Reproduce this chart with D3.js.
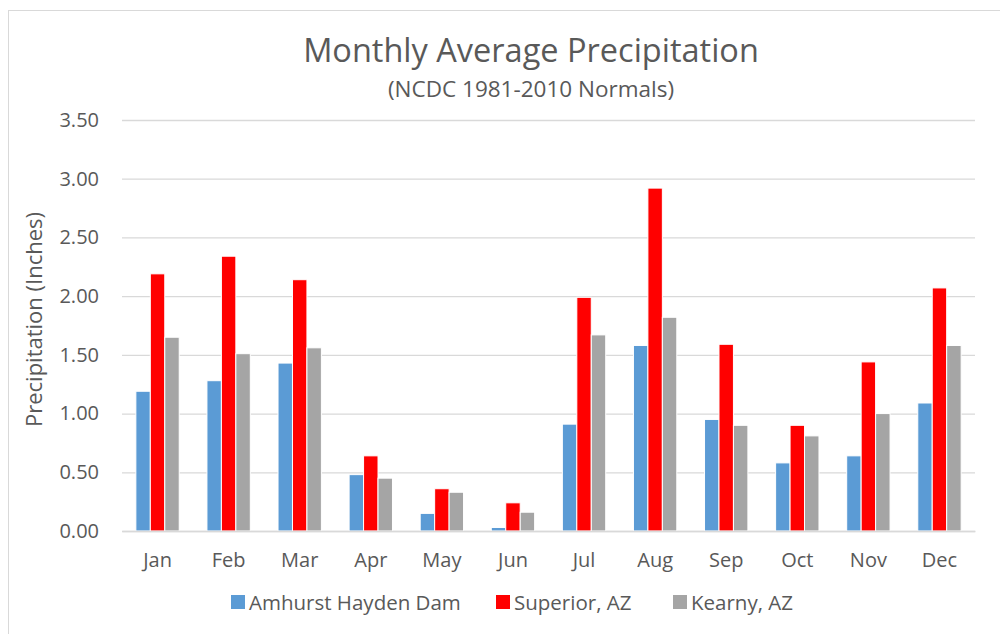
<!DOCTYPE html>
<html>
<head>
<meta charset="utf-8">
<script src="https://cdn.jsdelivr.net/npm/d3@7"></script>
<style>
  body { margin: 0; background: #fff; }
  svg { display: block; font-family: "Open Sans", sans-serif; }
</style>
</head>
<body>
<div class="chart"></div>
<script>
// data
var months = ["Jan", "Feb", "Mar", "Apr", "May", "Jun", "Jul", "Aug", "Sep", "Oct", "Nov", "Dec"];
var seriesNames = ["Amhurst Hayden Dam", "Superior, AZ", "Kearny, AZ"];
var seriesColors = ["#5B9BD5", "#FF0000", "#A5A5A5"];
var amhurst = [1.19, 1.28, 1.43, 0.48, 0.15, 0.03, 0.91, 1.58, 0.95, 0.58, 0.64, 1.09];
var superior = [2.19, 2.34, 2.14, 0.64, 0.36, 0.24, 1.99, 2.92, 1.59, 0.90, 1.44, 2.07];
var kearny = [1.65, 1.51, 1.56, 0.45, 0.33, 0.16, 1.67, 1.82, 0.90, 0.81, 1.00, 1.58];
var yTicks = [0, 0.5, 1, 1.5, 2, 2.5, 3, 3.5];

var svgWidth = 1000, svgHeight = 634;
var margin = {top: 120, right: 25, bottom: 103, left: 122};
var chart_width = svgWidth - margin.left - margin.right,
    chart_height = svgHeight - margin.top - margin.bottom;

var svg = d3.select(".chart")
  .append("svg")
    .attr("width", svgWidth)
    .attr("height", svgHeight);

// outer frame
svg.append("rect")
  .attr("x", 8.5).attr("y", 10.5)
  .attr("width", svgWidth).attr("height", svgHeight)
  .attr("fill", "none")
  .attr("stroke", "#d9d9d9");

var g = svg.append("g")
  .attr("transform", "translate(" + margin.left + "," + margin.top + ")");

var x0 = d3.scaleBand()
  .domain(months)
  .range([0, chart_width])
  .paddingInner(0.39)
  .paddingOuter(0.195);

var x1 = d3.scaleBand()
  .domain(d3.range(seriesNames.length))
  .range([0, x0.bandwidth()]);

var y = d3.scaleLinear()
  .domain([0, 3.5])
  .range([chart_height, 0]);

// gridlines + labels
var yAxis = g.append("g")
  .call(d3.axisLeft(y).tickValues(yTicks).tickSize(-chart_width).tickPadding(23)
    .tickFormat(d3.format(".2f")));
yAxis.select(".domain").remove();
yAxis.selectAll(".tick line").attr("stroke", "#d9d9d9").attr("stroke-width", 1.3);
yAxis.selectAll(".tick text")
  .attr("fill", "#595959")
  .style("font-size", "20px")
  .style("font-family", "Open Sans, sans-serif");

var table = months.map(function(m, i) {
  return {month: m, values: [amhurst[i], superior[i], kearny[i]]};
});

var groups = g.selectAll(".month")
  .data(table)
  .enter()
  .append("g")
    .attr("class", "month")
    .attr("transform", function(d) { return "translate(" + x0(d.month) + ",0)"; });

groups.selectAll("rect")
  .data(function(d) { return d.values; })
  .enter()
  .append("rect")
    .attr("x", function(d, i) { return x1(i); })
    .attr("y", function(d) { return y(d); })
    .attr("width", x1.bandwidth())
    .attr("height", function(d) { return chart_height - y(d); })
    .attr("fill", function(d, i) { return seriesColors[i]; })
    .attr("stroke", "#fff")
    .attr("stroke-width", 1);

// x axis
var xAxis = g.append("g")
  .attr("transform", "translate(0," + chart_height + ")")
  .call(d3.axisBottom(x0).tickSize(0).tickPadding(22));
xAxis.select(".domain").attr("stroke", "#d9d9d9").attr("stroke-width", 1.5);
xAxis.selectAll(".tick text")
  .attr("fill", "#595959")
  .style("font-size", "20px")
  .style("font-family", "Open Sans, sans-serif");

// titles
svg.append("text")
  .attr("x", 531).attr("y", 62)
  .attr("text-anchor", "middle")
  .attr("fill", "#595959")
  .style("font-size", "32.5px")
  .text("Monthly Average Precipitation");

svg.append("text")
  .attr("x", 531).attr("y", 97)
  .attr("text-anchor", "middle")
  .attr("fill", "#595959")
  .style("font-size", "22.5px")
  .text("(NCDC 1981-2010 Normals)");

svg.append("text")
  .attr("transform", "translate(42," + (margin.top + chart_height / 2 - 6) + ") rotate(-90)")
  .attr("text-anchor", "middle")
  .attr("fill", "#595959")
  .style("font-size", "22px")
  .text("Precipitation (Inches)");

// legend
var legendX = [231, 496, 673];
var legend = svg.selectAll(".legend")
  .data(seriesNames)
  .enter()
  .append("g")
    .attr("class", "legend")
    .attr("transform", function(d, i) { return "translate(" + legendX[i] + ",595)"; });

legend.append("rect")
  .attr("width", 14).attr("height", 14)
  .attr("fill", function(d, i) { return seriesColors[i]; });

legend.append("text")
  .attr("x", 18).attr("y", 15)
  .attr("fill", "#595959")
  .style("font-size", "20.5px")
  .text(function(d) { return d; });
</script>
</body>
</html>
